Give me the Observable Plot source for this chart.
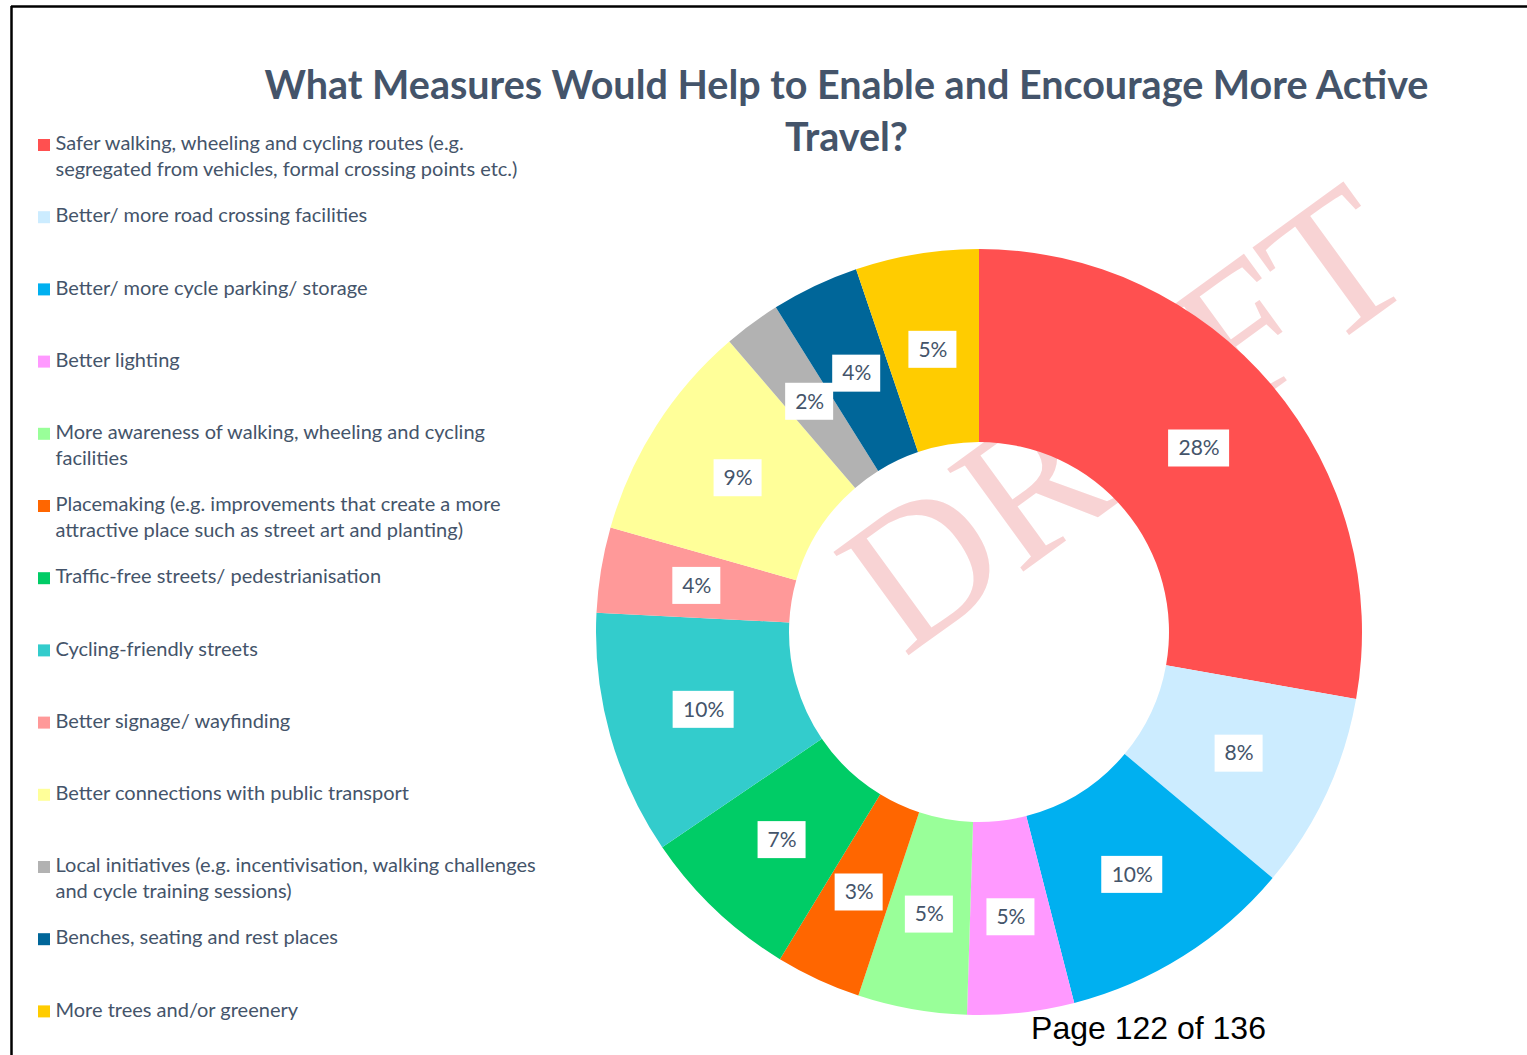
<!DOCTYPE html>
<html>
<head>
<meta charset="utf-8">
<script src="https://cdn.jsdelivr.net/npm/d3@7"></script>
<script src="https://cdn.jsdelivr.net/npm/@observablehq/plot@0.6"></script>
<style>
  html, body { margin: 0; padding: 0; background: #ffffff; }
  #chart { position: relative; width: 1527px; height: 1055px; overflow: hidden; }
</style>
</head>
<body>
<div id="chart"></div>
<script>
// ---- data ----
const categories = [
  "Safer walking, wheeling and cycling routes (e.g. segregated from vehicles, formal crossing points etc.)",
  "Better/ more road crossing facilities",
  "Better/ more cycle parking/ storage",
  "Better lighting",
  "More awareness of walking, wheeling and cycling facilities",
  "Placemaking (e.g. improvements that create a more attractive place such as street art and planting)",
  "Traffic-free streets/ pedestrianisation",
  "Cycling-friendly streets",
  "Better signage/ wayfinding",
  "Better connections with public transport",
  "Local initiatives (e.g. incentivisation, walking challenges and cycle training sessions)",
  "Benches, seating and rest places",
  "More trees and/or greenery"
];
const legendLines = [
  "Safer walking, wheeling and cycling routes (e.g.\nsegregated from vehicles, formal crossing points etc.)",
  "Better/ more road crossing facilities",
  "Better/ more cycle parking/ storage",
  "Better lighting",
  "More awareness of walking, wheeling and cycling\nfacilities",
  "Placemaking (e.g. improvements that create a more\nattractive place such as street art and planting)",
  "Traffic-free streets/ pedestrianisation",
  "Cycling-friendly streets",
  "Better signage/ wayfinding",
  "Better connections with public transport",
  "Local initiatives (e.g. incentivisation, walking challenges\nand cycle training sessions)",
  "Benches, seating and rest places",
  "More trees and/or greenery"
];
const shares = [27.8, 8.3, 9.9, 4.5, 4.6, 3.6, 6.8, 10.3, 3.6, 9.3, 2.4, 3.7, 5.2];
const percentLabels = ["28%", "8%", "10%", "5%", "5%", "3%", "7%", "10%", "4%", "9%", "2%", "4%", "5%"];
const colors = ["#FF5050", "#CCECFF", "#00B0F0", "#FF99FF", "#99FF99", "#FF6600", "#00CC66",
                "#33CCCC", "#FF9999", "#FFFF99", "#B2B2B2", "#006699", "#FFCC00"];
const titleLines = ["What Measures Would Help to Enable and Encourage More Active", "Travel?"];
const watermark = ["DRAFT"];
const pageFooter = ["Page 122 of 136"];

// ---- layout ----
const W = 1527, H = 1055;
const CX = 979, CY = 632, R_OUT = 383, R_IN = 190;
const textColor = "#44546A";
const uiFont = "Lato, 'Open Sans', sans-serif";

const rows = categories.map((c, i) => ({category: c, share: shares[i], label: percentLabels[i], legend: legendLines[i], i}));
const pie = d3.pie().sort(null).value(d => d.share).startAngle(0).endAngle(2 * Math.PI);
const arcs = pie(rows);
const arcGen = d3.arc().innerRadius(R_IN).outerRadius(R_OUT);
const labelRows = arcs.map(a => {
  const [dx, dy] = arcGen.centroid(a);
  return {...a.data, lx: CX + dx, ly: CY + dy, w: a.data.label.length * 13 + 22};
});

// custom donut mark drawn through Plot's scales
function donutMark(index, scales, values, dimensions, context) {
  const color = scales.color;
  const g = d3.create("svg:g")
    .attr("transform", `translate(${scales.x(CX)},${scales.y(CY)})`);
  g.selectAll("path")
    .data(arcs)
    .join("path")
    .attr("d", arcGen)
    .attr("fill", d => color ? color(d.data.category) : colors[d.data.i]);
  return g.node();
}

const LEG_Y0 = 145.5, LEG_STEP = 72.2, LEG_FS = 20;

const plot = Plot.plot({
  width: W,
  height: H,
  margin: 0,
  x: {domain: [0, W], range: [0, W], axis: null},
  y: {domain: [0, H], range: [0, H], axis: null},
  color: {type: "ordinal", domain: categories, range: colors},
  style: {background: "#ffffff", fontFamily: uiFont},
  marks: [
    // page frame
    Plot.ruleY([6], {x1: () => 11, x2: () => W, stroke: "#000", strokeWidth: 2.5}),
    Plot.ruleX([11], {y1: () => 6, y2: () => H, stroke: "#000", strokeWidth: 2.5}),
    // watermark (behind the donut)
    Plot.text(watermark, {
      x: () => 1162, y: () => 470, text: d => d, rotate: -36,
      fontSize: 195, fontFamily: "'Liberation Serif', 'DejaVu Serif', serif",
      fill: "#F8D3D4", textAnchor: "middle", lineAnchor: "bottom"
    }),
    // donut
    donutMark,
    // data labels
    Plot.rect(labelRows, {
      x1: d => d.lx - d.w / 2, x2: d => d.lx + d.w / 2,
      y1: d => d.ly - 18.5, y2: d => d.ly + 18.5, fill: "#ffffff"
    }),
    Plot.text(labelRows, {
      x: "lx", y: "ly", text: "label", fill: textColor, fontSize: 21,
      fontFamily: uiFont, textAnchor: "middle", lineAnchor: "middle"
    }),
    // title
    Plot.text(titleLines, {
      x: () => 846, y: (d, i) => 98 + i * 52, text: d => d, fill: textColor,
      fontSize: 39.5, fontWeight: "bold", fontFamily: uiFont,
      textAnchor: "middle", lineAnchor: "bottom"
    }),
    // legend
    Plot.rect(rows, {
      x1: () => 38, x2: () => 50,
      y1: d => 152 + d.i * LEG_STEP - 13, y2: d => 152 + d.i * LEG_STEP - 1,
      fill: "category"
    }),
    Plot.text(rows, {
      x: () => 55, y: d => LEG_Y0 + d.i * LEG_STEP - 0.71 * LEG_FS, text: "legend",
      fill: textColor, fontSize: LEG_FS, fontFamily: uiFont,
      textAnchor: "start", lineAnchor: "top", lineHeight: 26 / LEG_FS
    }),
    // footer
    Plot.text(pageFooter, {
      x: () => 1148, y: () => 1038, text: d => d, fill: "#000000",
      fontSize: 32, fontFamily: "'Liberation Sans', Arial, sans-serif",
      textAnchor: "middle", lineAnchor: "bottom"
    })
  ]
});

document.getElementById("chart").appendChild(plot);
</script>
</body>
</html>
